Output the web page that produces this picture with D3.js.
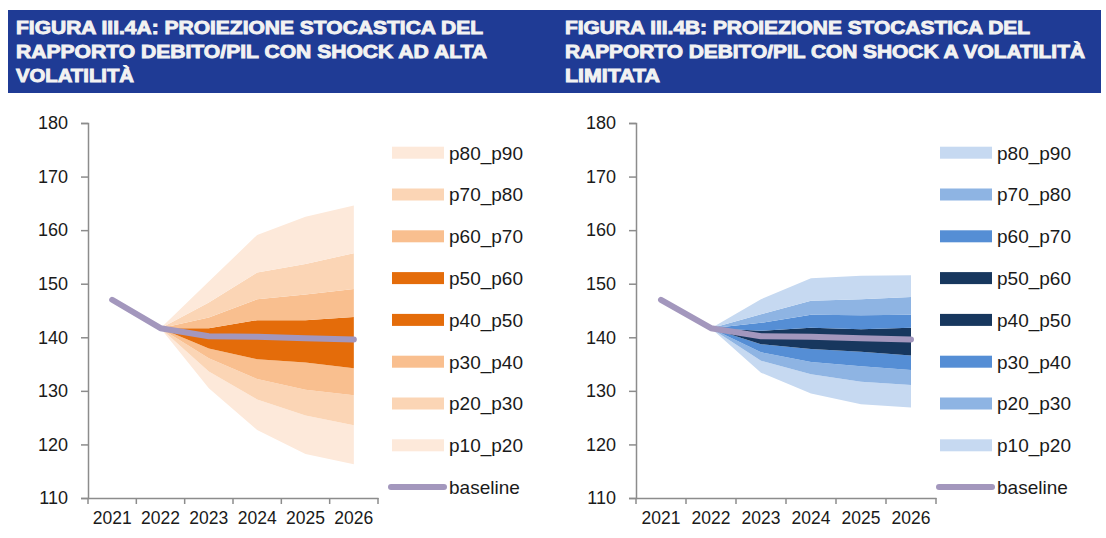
<!DOCTYPE html>
<html>
<head>
<meta charset="utf-8">
<script src="https://cdn.jsdelivr.net/npm/d3@7"></script>
<style>
  body { margin: 0; background: #fff; }
  svg text { font-family: "Liberation Sans", Arial, sans-serif; }
</style>
</head>
<body>
<svg id="chart" width="1106" height="538"></svg>
<script>
// years on the x axis
var years = ["2021", "2022", "2023", "2024", "2025", "2026"];
var fanYears = ["2022", "2023", "2024", "2025", "2026"];
var yTicks = [110, 120, 130, 140, 150, 160, 170, 180];

var baseline = [147.0, 141.7, 140.2, 140.1, 139.8, 139.6];

// fig A - high volatility shocks (percentiles, 2022..2026)
var hiP10 = [141.7, 130.5, 122.7, 118.2, 116.3];
var hiP20 = [141.7, 133.6, 128.4, 125.4, 123.6];
var hiP30 = [141.7, 136.1, 132.2, 130.2, 129.2];
var hiP40 = [141.7, 137.9, 135.9, 135.3, 134.2];
var hiP50 = [141.7, 140.0, 139.8, 139.4, 139.2];
var hiP60 = [141.7, 141.7, 143.2, 143.2, 143.8];
var hiP70 = [141.7, 143.7, 147.1, 148.0, 149.0];
var hiP80 = [141.7, 146.5, 152.1, 153.7, 155.7];
var hiP90 = [141.7, 150.4, 159.1, 162.5, 164.6];

// fig B - limited volatility shocks
var loP10 = [141.7, 133.4, 129.5, 127.5, 126.9];
var loP20 = [141.7, 135.6, 133.1, 131.7, 131.1];
var loP30 = [141.7, 137.2, 135.4, 134.6, 133.9];
var loP40 = [141.7, 138.7, 137.8, 137.3, 136.6];
var loP50 = [141.7, 140.0, 139.9, 139.6, 139.4];
var loP60 = [141.7, 141.2, 141.8, 141.5, 141.8];
var loP70 = [141.7, 142.7, 144.2, 144.1, 144.2];
var loP80 = [141.7, 144.3, 146.8, 147.1, 147.5];
var loP90 = [141.7, 147.1, 151.0, 151.5, 151.6];

var bandNames = ["p10_p20", "p20_p30", "p30_p40", "p40_p50", "p50_p60", "p60_p70", "p70_p80", "p80_p90"];
var orangeCols = ["#fde9da", "#fbd5b5", "#f9bf8f", "#e46c0a", "#e46c0a", "#f9bf8f", "#fbd5b5", "#fde9da"];
var blueCols = ["#c6d9f1", "#8eb4e3", "#558ed5", "#17375e", "#17375e", "#558ed5", "#8eb4e3", "#c6d9f1"];
var baseColor = "#a397bd";

var svg = d3.select("#chart");

// header band
svg.append("rect").attr("x", 8).attr("y", 10).attr("width", 1093).attr("height", 83).attr("fill", "#1f3b95");

function title(x, lines, lens) {
  lines.forEach(function(t, i) {
    svg.append("text")
      .attr("x", x).attr("y", 33.5 + i * 24)
      .attr("fill", "#f2f2f2").attr("stroke", "#f2f2f2").attr("stroke-width", 0.9)
      .style("font-size", "18px").style("font-weight", "bold")
      .attr("textLength", lens[i]).attr("lengthAdjust", "spacingAndGlyphs")
      .text(t);
  });
}
title(16, ["FIGURA III.4A: PROIEZIONE STOCASTICA DEL", "RAPPORTO DEBITO/PIL CON SHOCK AD ALTA", "VOLATILITÀ"], [467, 471, 118]);
title(565, ["FIGURA III.4B: PROIEZIONE STOCASTICA DEL", "RAPPORTO DEBITO/PIL CON SHOCK A VOLATILITÀ", "LIMITATA"], [465, 520, 95]);

function drawPanel(x0, x1, pcts, cols, legX) {
  var g = svg.append("g");
  var x = d3.scaleBand().domain(years).range([x0, x1]);
  var y = d3.scaleLinear().domain([110, 180]).range([498, 123]);
  var cx = function(yr) { return x(yr) + x.bandwidth() / 2; };

  // fan bands
  for (var b = 0; b < 8; b++) {
    var lo = pcts[b], hi = pcts[b + 1];
    var area = d3.area()
      .x(function(d, i) { return cx(fanYears[i]); })
      .y0(function(d, i) { return y(lo[i]); })
      .y1(function(d, i) { return y(hi[i]); });
    g.append("path").datum(lo).attr("d", area).attr("fill", cols[b]);
  }

  // baseline
  var line = d3.line().x(function(d, i) { return cx(years[i]); }).y(function(d) { return y(d); });
  g.append("path").datum(baseline).attr("d", line)
    .attr("fill", "none").attr("stroke", baseColor).attr("stroke-width", 6)
    .attr("stroke-linecap", "round").attr("stroke-linejoin", "round");

  // axes
  var yAx = g.append("g").attr("transform", "translate(" + x0 + ",0)")
    .call(d3.axisLeft(y).tickValues(yTicks).tickSize(7).tickPadding(13));
  var xAx = g.append("g").attr("transform", "translate(0,498)")
    .call(d3.axisBottom(x).tickSize(0).tickPadding(14));
  // x ticks on band edges
  var edges = years.map(function(d) { return x(d); }).concat([x1]);
  xAx.selectAll(".edge").data(edges).enter().append("line")
    .attr("x1", function(d) { return d; }).attr("x2", function(d) { return d; })
    .attr("y1", 0).attr("y2", 6).attr("stroke", "#8c8c8c").attr("stroke-width", 1.5);
  [yAx, xAx].forEach(function(a) {
    a.select(".domain").attr("stroke", "#8c8c8c").attr("stroke-width", 1.5);
    a.selectAll(".tick line").attr("stroke", "#8c8c8c").attr("stroke-width", 1.5);
    a.selectAll("text").attr("fill", "#1a1a1a").style("font-family", "Liberation Sans, Arial, sans-serif");
  });
  yAx.selectAll("text").style("font-size", "18px");
  xAx.selectAll("text").style("font-size", "17.5px");

  // legend, top to bottom p80_p90 ... p10_p20, baseline
  var rows = bandNames.slice().reverse();
  var rcol = cols.slice().reverse();
  rows.forEach(function(n, i) {
    var ry = 152.7 + i * 41.8;
    g.append("rect").attr("x", legX).attr("y", ry - 6).attr("width", 52).attr("height", 12).attr("fill", rcol[i]);
    g.append("text").attr("x", legX + 57).attr("y", ry + 6.8).style("font-size", "19px").attr("fill", "#1a1a1a").text(n);
  });
  var by = 152.7 + 8 * 41.8;
  g.append("line").attr("x1", legX - 1).attr("x2", legX + 52).attr("y1", by).attr("y2", by)
    .attr("stroke", baseColor).attr("stroke-width", 6).attr("stroke-linecap", "round");
  g.append("text").attr("x", legX + 57).attr("y", by + 6.8).style("font-size", "19px").attr("fill", "#1a1a1a").text("baseline");
}

drawPanel(88, 378, [hiP10, hiP20, hiP30, hiP40, hiP50, hiP60, hiP70, hiP80, hiP90], orangeCols, 392);
drawPanel(636, 936, [loP10, loP20, loP30, loP40, loP50, loP60, loP70, loP80, loP90], blueCols, 940);
</script>
</body>
</html>
